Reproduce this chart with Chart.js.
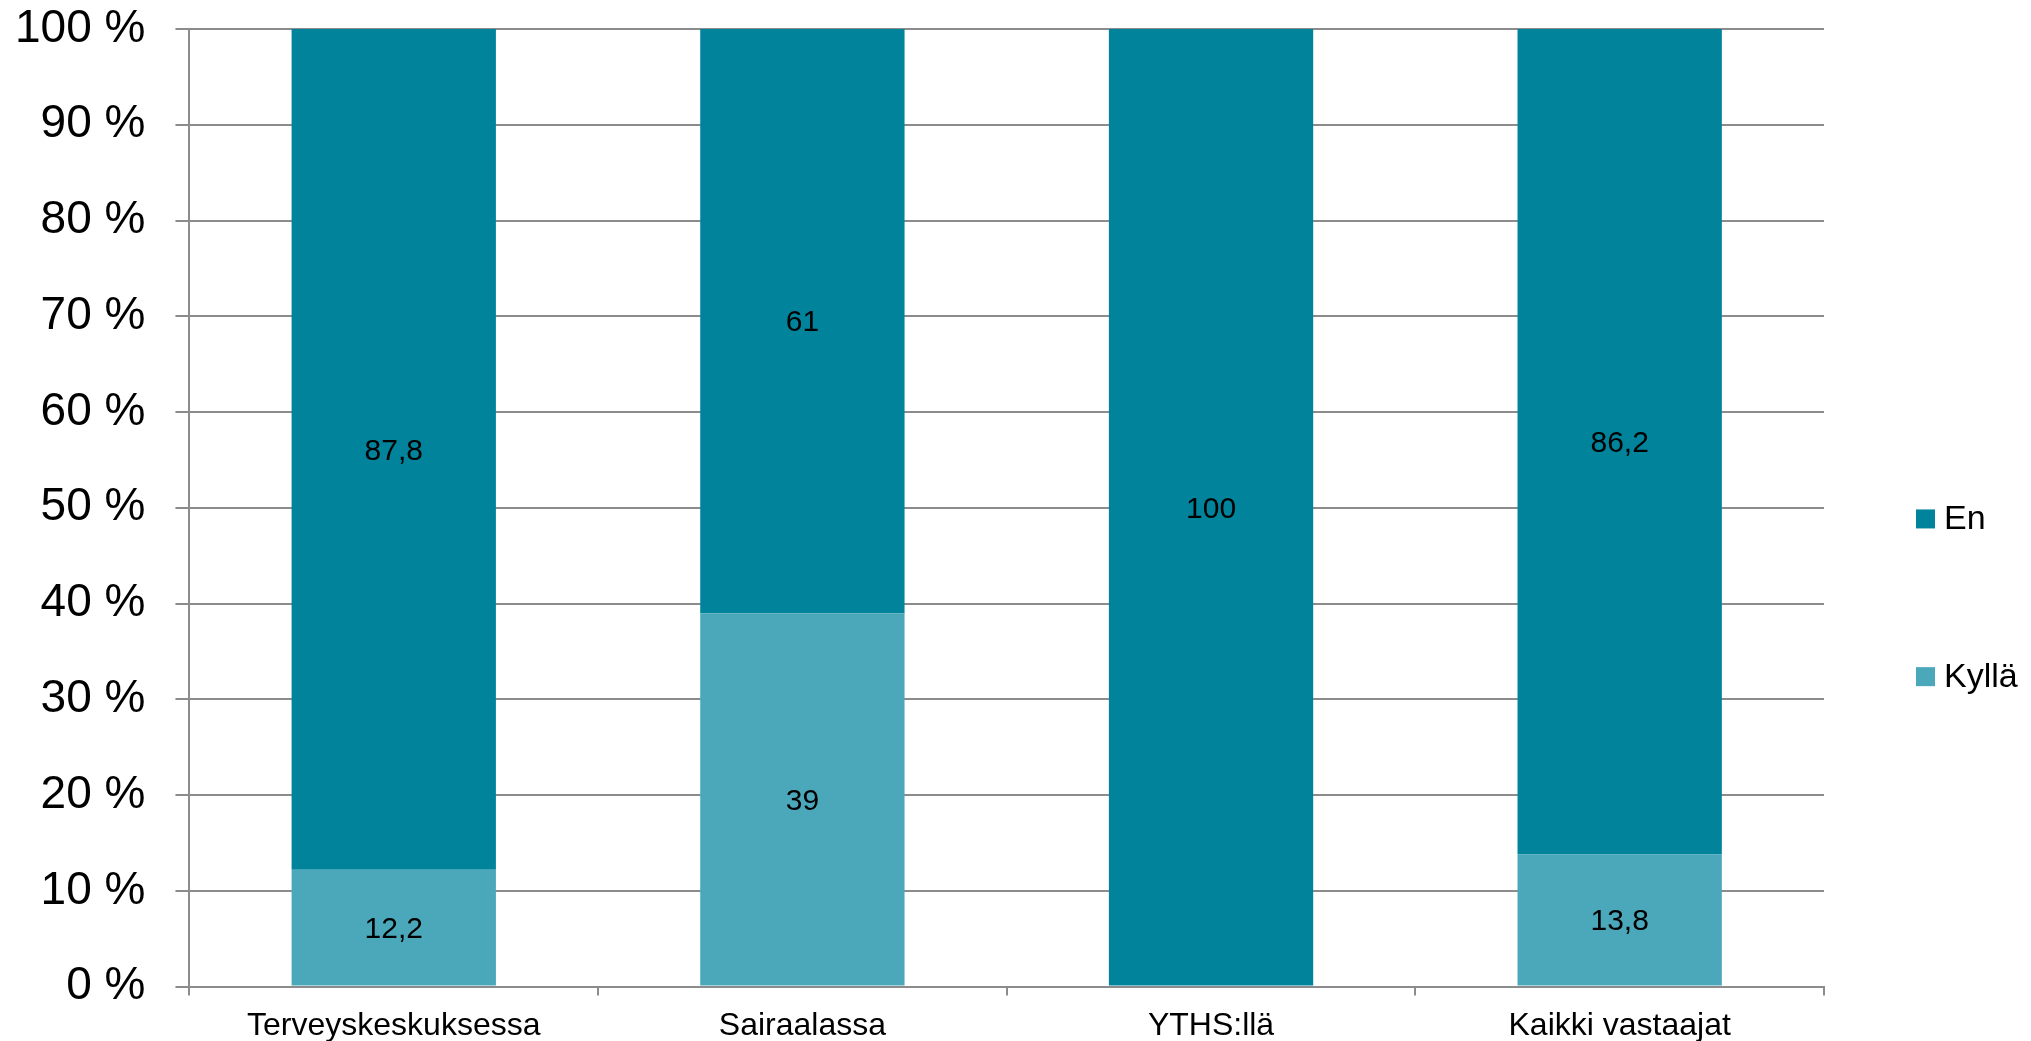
<!DOCTYPE html>
<html>
<head>
<meta charset="utf-8">
<script src="https://cdn.jsdelivr.net/npm/chart.js@4.4.1/dist/chart.umd.min.js"></script>
<style>
html, body { margin: 0; padding: 0; background: #fff; overflow: hidden; }
#wrap { width: 2031px; height: 1041px; }
</style>
</head>
<body>
<div id="wrap"><canvas id="chart" width="2031" height="1041"></canvas></div>
<script>
var categories = ['Terveyskeskuksessa', 'Sairaalassa', 'YTHS:llä', 'Kaikki vastaajat'];
var kyllaValues = [12.2, 39, 0, 13.8];
var enValues = [87.8, 61, 100, 86.2];
var seriesNames = ['Kyllä', 'En'];
var yTickValues = [0, 10, 20, 30, 40, 50, 60, 70, 80, 90, 100];

var FONT = '"Liberation Sans", Arial, sans-serif';
var GRID = '#8c8c8c';
var colorKylla = '#4ba8ba';
var colorEn = '#00839b';

function fmt(v) {
  return String(v).replace('.', ',');
}

// value labels in the middle of each segment
var barLabels = {
  id: 'barLabels',
  afterDatasetsDraw: function(chart) {
    var ctx = chart.ctx;
    ctx.save();
    ctx.font = '30px ' + FONT;
    ctx.fillStyle = '#000';
    ctx.textAlign = 'center';
    ctx.textBaseline = 'middle';
    chart.data.datasets.forEach(function(ds, i) {
      var meta = chart.getDatasetMeta(i);
      meta.data.forEach(function(bar, j) {
        var v = ds.data[j];
        if (!v) {
          return;
        }
        var p = bar.getCenterPoint();
        ctx.fillText(fmt(v), p.x, p.y + 2);
      });
    });
    ctx.restore();
  }
};

// legend on the right, En above Kyllä
var sideLegend = {
  id: 'sideLegend',
  afterDraw: function(chart) {
    var ctx = chart.ctx;
    var x = chart.chartArea.right + 92;
    var rows = [
      { ds: chart.data.datasets[1], y: chart.height * 0.4985 },
      { ds: chart.data.datasets[0], y: chart.height * 0.6500 }
    ];
    ctx.save();
    ctx.font = '34px ' + FONT;
    ctx.textBaseline = 'middle';
    ctx.textAlign = 'left';
    rows.forEach(function(r) {
      ctx.fillStyle = r.ds.backgroundColor;
      ctx.fillRect(x, r.y - 9.5, 19, 19);
      ctx.fillStyle = '#000';
      ctx.fillText(r.ds.label, x + 28, r.y + 1);
    });
    ctx.restore();
  }
};

var chart = new Chart(document.getElementById('chart'), {
  type: 'bar',
  data: {
    labels: categories,
    datasets: [
      { label: seriesNames[0], data: kyllaValues, backgroundColor: colorKylla },
      { label: seriesNames[1], data: enValues, backgroundColor: colorEn }
    ]
  },
  options: {
    responsive: false,
    animation: false,
    devicePixelRatio: 1,
    layout: { padding: { left: -15, right: 207, top: 29, bottom: -15 } },
    datasets: {
      bar: { barPercentage: 0.5, categoryPercentage: 1.0, borderWidth: 0 }
    },
    plugins: {
      legend: { display: false },
      tooltip: { enabled: false }
    },
    scales: {
      x: {
        stacked: true,
        grid: { display: true, drawOnChartArea: false, drawTicks: true, tickLength: 9, color: GRID, lineWidth: 2, offset: true },
        border: { display: true, color: GRID, width: 2 },
        ticks: { color: '#000', font: { family: FONT, size: 32 }, padding: 11, maxRotation: 0 }
      },
      y: {
        stacked: true,
        min: 0,
        max: 100,
        afterBuildTicks: function(scale) {
          scale.ticks = yTickValues.map(function(v) { return { value: v }; });
        },
        afterFit: function(scale) {
          scale.paddingTop = 0;
          scale.paddingBottom = 0;
        },
        grid: { color: GRID, lineWidth: 2, tickLength: 14, drawTicks: true },
        border: { display: true, color: GRID, width: 2 },
        ticks: {
          color: '#000',
          font: { family: FONT, size: 46 },
          padding: 30,
          callback: function(v) { return v + ' %'; }
        }
      }
    }
  },
  plugins: [barLabels, sideLegend]
});
</script>
</body>
</html>
